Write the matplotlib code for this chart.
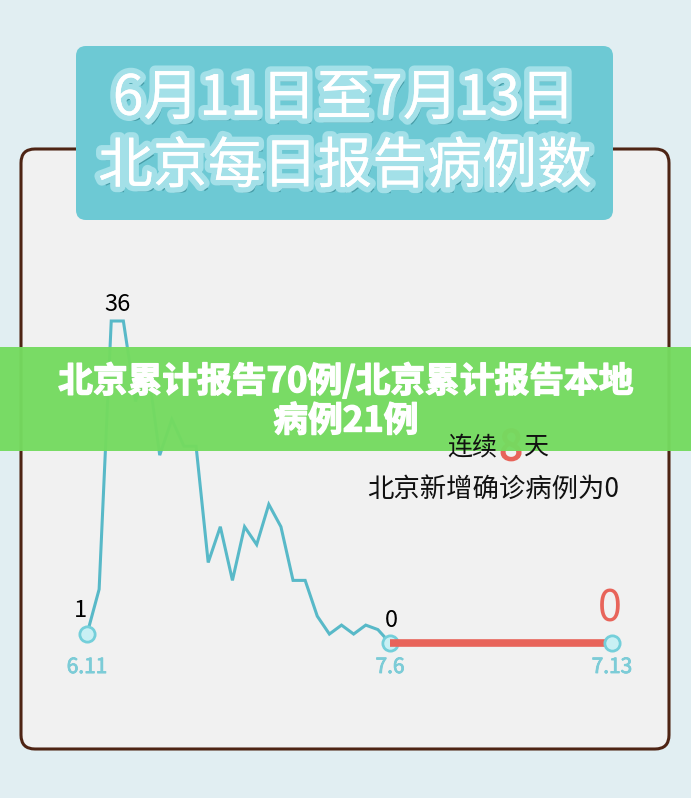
import matplotlib
matplotlib.use("Agg")
import matplotlib.pyplot as plt
from matplotlib.patches import FancyBboxPatch, Rectangle
import matplotlib.patheffects as pe

plt.rcParams['font.family'] = ['Noto Sans CJK SC', 'DejaVu Sans']

# ---------------- data ----------------
daily_cases = [1, 6, 36, 36, 27, 31, 21, 25, 22, 22, 9, 13, 7, 13, 11, 15.5, 13,
               7, 7, 3, 1, 2, 1, 2, 1.5, 0]          # 6.11 .. 7.6
zero_days = [6, 7, 8, 9, 10, 11, 12, 13]              # July 6 .. July 13
zero_cases = [0, 0, 0, 0, 0, 0, 0, 0]
date_labels = ['6.11', '7.6', '7.13']
title_lines = ['6月11日至7月13日', '北京每日报告病例数']
banner_lines = ['北京累计报告70例/北京累计报告本地', '病例21例']
streak_days = '8'
note_text = '北京新增确诊病例为0'

W, H = 691, 798
fig = plt.figure(figsize=(W / 100, H / 100), dpi=100)
fig.patch.set_facecolor('#E1EEF2')

# background decoration axes in pixel coordinates
bg = fig.add_axes([0, 0, 1, 1], zorder=0)
bg.set_xlim(0, W)
bg.set_ylim(H, 0)
bg.axis('off')

panel = FancyBboxPatch((21, 149), 648, 600, boxstyle='round,pad=0,rounding_size=14',
                       facecolor='#F1F1F1', edgecolor='#4E2414', linewidth=2.2, zorder=1)
bg.add_patch(panel)
tbox = FancyBboxPatch((76, 46), 537, 174, boxstyle='round,pad=0,rounding_size=10',
                      facecolor='#6DC9D4', edgecolor='none', zorder=2)
bg.add_patch(tbox)

title_fx = [pe.withSimplePatchShadow(offset=(3, -4), shadow_rgbFace='#2f7f8a', alpha=0.6),
            pe.withStroke(linewidth=8, foreground='#A3E0E8'),
            pe.Normal()]
bg.text(344, 99, title_lines[0], ha='center', va='center', fontsize=40,
        fontweight='medium', color='white', zorder=3, path_effects=title_fx)
bg.text(345, 167, title_lines[1], ha='center', va='center', fontsize=39.5,
        fontweight='medium', color='white', zorder=3, path_effects=title_fx)

# red streak digit (mostly hidden by the banner)
bg.text(511, 460, streak_days, ha='center', va='baseline', fontsize=30, color='#E8645A',
        zorder=2, path_effects=[pe.withStroke(linewidth=1.2, foreground='#E8645A'), pe.Normal()])
bg.text(493, 489, note_text, ha='center', va='center', fontsize=19, color='#111111', zorder=2)

# ---------------- data axes ----------------
y_bottom, y_top = 643, 321
ax = fig.add_axes([87 / W, (H - y_bottom) / H, 303 / W, (y_bottom - y_top) / H], zorder=1)
ax.set_xlim(0, len(daily_cases) - 1)
ax.set_ylim(0, 36)
ax.axis('off')
ax.patch.set_alpha(0)
xs = list(range(len(daily_cases)))
ax.plot(xs, daily_cases, color='#58B9C8', linewidth=2.2, clip_on=False, zorder=2,
        solid_joinstyle='miter')

ax2 = fig.add_axes([390 / W, (H - y_bottom) / H, 222 / W, (y_bottom - y_top) / H], zorder=1)
ax2.set_xlim(zero_days[0], zero_days[-1])
ax2.set_ylim(0, 36)
ax2.axis('off')
ax2.patch.set_alpha(0)
ax2.plot(zero_days, zero_cases, color='#E8645A', linewidth=5.5, clip_on=False, zorder=2,
         solid_capstyle='butt')

mk = dict(marker='o', markersize=11, markerfacecolor='#C9F0F4', markeredgecolor='#74CFDA',
          markeredgewidth=2, linestyle='none', clip_on=False, zorder=4)
ax.plot([xs[0], xs[-1]], [daily_cases[0], daily_cases[-1]], **mk)
ax2.plot([zero_days[-1]], [zero_cases[-1]], **mk)

# value labels
peak_i = daily_cases.index(max(daily_cases))
ax.annotate(f'{daily_cases[0]:g}', (xs[0], daily_cases[0]), xytext=(-7, 12),
            textcoords='offset pixels', ha='center', va='bottom', fontsize=17,
            color='black', annotation_clip=False)
ax.annotate(f'{daily_cases[peak_i]:g}', (xs[peak_i] + 0.5, daily_cases[peak_i]), xytext=(0, 5),
            textcoords='offset pixels', ha='center', va='bottom', fontsize=17,
            color='black', annotation_clip=False)
ax.annotate(f'{daily_cases[-1]:g}', (xs[-1], daily_cases[-1]), xytext=(1, 11),
            textcoords='offset pixels', ha='center', va='bottom', fontsize=17,
            color='black', annotation_clip=False)
ax2.annotate(f'{zero_cases[-1]:g}', (zero_days[-1], zero_cases[-1]), xytext=(-2, 12),
             textcoords='offset pixels', ha='center', va='bottom', fontsize=31,
             color='#E8645A', annotation_clip=False)

# date labels
date_fx = [pe.withStroke(linewidth=0.6, foreground='#7CCCD7'), pe.Normal()]
for axis, xv, yv, dy, lab in [(ax, xs[0], daily_cases[0], -22, date_labels[0]),
                              (ax, xs[-1], daily_cases[-1], -13, date_labels[1]),
                              (ax2, zero_days[-1], zero_cases[-1], -13, date_labels[2])]:
    axis.annotate(lab, (xv, yv), xytext=(0, dy), textcoords='offset pixels',
                  ha='center', va='top', fontsize=15, color='#7CCCD7',
                  annotation_clip=False, path_effects=date_fx)

# ---------------- banner overlay ----------------
ov = fig.add_axes([0, 0, 1, 1], zorder=3)
ov.set_xlim(0, W)
ov.set_ylim(H, 0)
ov.axis('off')
ov.patch.set_alpha(0)
ov.add_patch(Rectangle((0, 347), W, 103.5, facecolor='#75DB60', alpha=0.97,
                       edgecolor='none'))
banner_fx = [pe.withStroke(linewidth=1.0, foreground='white'), pe.Normal()]
ov.text(346, 381, banner_lines[0], ha='center', va='center', fontsize=25,
        fontweight='black', color='white', path_effects=banner_fx)
ov.text(346, 421, banner_lines[1], ha='center', va='center', fontsize=25,
        fontweight='black', color='white', path_effects=banner_fx)

# streak note text drawn above the banner
ov.text(497, 447, '连续', ha='right', va='center', fontsize=18, color='#111111')
ov.text(524, 447, '天', ha='left', va='center', fontsize=18, color='#111111')

fig.savefig('out.png', dpi=100, facecolor=fig.get_facecolor())
